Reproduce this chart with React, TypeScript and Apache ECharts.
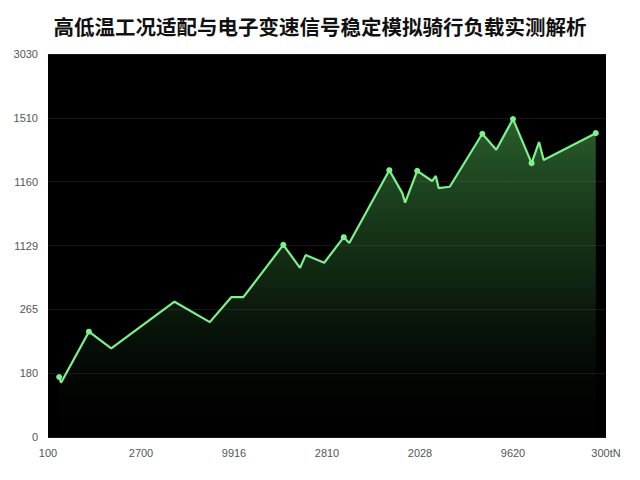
import React, { useEffect, useRef } from "react";
import * as echarts from "echarts";

const titleText = "高低温工况适配与电子变速信号稳定模拟骑行负载实测解析";
const xTickLabels = ["100", "2700", "9916", "2810", "2028", "9620", "300tN"];
const yTickLabels = ["0", "180", "265", "1129", "1160", "1510", "3030"];

// positions along x axis (tick index units) and load values (tick index units)
const xPositions = [
  0.12, 0.14, 0.44, 0.68, 1.36, 1.74, 1.97, 2.1, 2.53, 2.71, 2.77, 2.97, 3.18, 3.24,
  3.67, 3.81, 3.84, 3.97, 4.13, 4.17, 4.2, 4.32, 4.67, 4.82, 5.0, 5.2, 5.28, 5.33, 5.89,
];
const loadValues = [
  0.94, 0.85, 1.65, 1.39, 2.12, 1.8, 2.19, 2.19, 3.01, 2.65, 2.85, 2.73, 3.13, 3.04,
  4.18, 3.82, 3.67, 4.17, 4.01, 4.09, 3.9, 3.92, 4.75, 4.5, 4.98, 4.29, 4.62, 4.34, 4.76,
];
const markedPoints = [0, 2, 8, 12, 14, 17, 22, 24, 25, 28];

export default function App() {
  const ref = useRef<HTMLDivElement>(null);
  useEffect(() => {
    if (!ref.current) return;
    const chart = echarts.init(ref.current, undefined, { renderer: "svg" });
    const data = xPositions.map((x, i) => ({
      value: [x, loadValues[i]],
      symbolSize: markedPoints.includes(i) ? 6 : 0,
    }));
    chart.setOption({
      animation: false,
      backgroundColor: "#ffffff",
      title: {
        text: titleText,
        left: "center",
        top: 11,
        textStyle: {
          fontFamily: "Noto Sans CJK SC",
          fontWeight: "bold",
          fontSize: 20.5,
          color: "#111111",
        },
      },
      grid: {
        left: 48,
        right: 34,
        top: 54,
        bottom: 43,
        show: true,
        backgroundColor: "#000000",
        borderWidth: 0,
      },
      xAxis: {
        type: "value",
        min: 0,
        max: 6,
        interval: 1,
        axisLine: { show: false },
        axisTick: { show: false },
        splitLine: { show: false },
        axisLabel: {
          margin: 10,
          color: "#555555",
          fontSize: 11,
          fontFamily: "Liberation Sans",
          formatter: (v: number) => xTickLabels[Math.round(v)] ?? "",
        },
      },
      yAxis: {
        type: "value",
        min: 0,
        max: 6,
        interval: 1,
        axisLine: { show: false },
        axisTick: { show: false },
        splitLine: { show: true, lineStyle: { color: "#171717", width: 1 } },
        axisLabel: {
          margin: 10,
          color: "#555555",
          fontSize: 11,
          fontFamily: "Liberation Sans",
          formatter: (v: number) => yTickLabels[Math.round(v)] ?? "",
        },
      },
      series: [
        {
          type: "line",
          data,
          symbol: "circle",
          showSymbol: true,
          itemStyle: { color: "#7ef08c" },
          lineStyle: { color: "#7ef08c", width: 2.2 },
          areaStyle: {
            color: new echarts.graphic.LinearGradient(0, 0, 0, 1, [
              { offset: 0, color: "rgba(80,180,85,0.75)" },
              { offset: 0.5, color: "rgba(50,120,55,0.45)" },
              { offset: 1, color: "rgba(0,0,0,0.1)" },
            ]),
          },
        },
      ],
    });
    return () => chart.dispose();
  }, []);
  return (
    <div
      ref={ref}
      style={{ position: "fixed", left: 0, top: 0, width: 640, height: 480 }}
    />
  );
}
